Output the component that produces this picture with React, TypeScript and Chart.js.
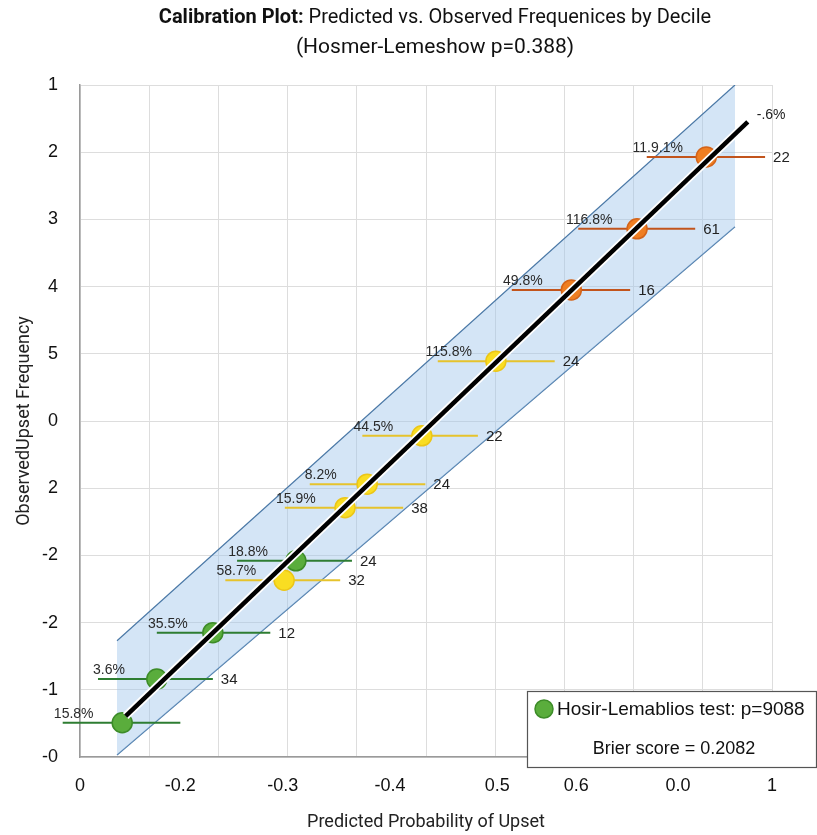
import React, { useEffect, useRef } from 'react';
import { Chart, registerables } from 'chart.js';

Chart.register(...registerables);

// ---- data ----
const predicted = [0.061, 0.111, 0.192, 0.312, 0.295, 0.383, 0.415, 0.494, 0.601, 0.71, 0.805, 0.905];
const observed = [0.051, 0.116, 0.185, 0.292, 0.263, 0.371, 0.406, 0.478, 0.589, 0.695, 0.786, 0.893];
const ciLow = [-0.025, 0.026, 0.111, 0.227, 0.21, 0.296, 0.332, 0.408, 0.517, 0.624, 0.72, 0.819];
const ciHigh = [0.145, 0.192, 0.275, 0.393, 0.376, 0.467, 0.499, 0.575, 0.686, 0.795, 0.889, 0.99];
const pctLabels = ['15.8%', '3.6%', '35.5%', '18.8%', '58.7%', '15.9%', '8.2%', '44.5%', '115.8%', '49.8%', '116.8%', '11.9.1%'];
const countLabels = ['', '34', '12', '24', '32', '38', '24', '22', '24', '16', '61', '22'];
const groups = ['green', 'green', 'green', 'green', 'yellow', 'yellow', 'yellow', 'yellow', 'yellow', 'orange', 'orange', 'orange'];

const fitX = [0.066, 0.965];
const fitY = [0.061, 0.945];
const fitLabel = '-.6%';

const bandX = [0.0535, 0.9465];
const bandLower = [0.003, 0.789];
const bandUpper = [0.173, 1.0];

const xGridValues = [0, 0.1, 0.2, 0.3, 0.4, 0.5, 0.6, 0.7, 0.8, 0.9, 1.0];
const xTickValues = [0, 0.145, 0.293, 0.448, 0.603, 0.717, 0.864, 1.0];
const xTickLabels = ['0', '-0.2', '-0.3', '-0.4', '0.5', '0.6', '0.0', '1'];
const yTickValues = [0, 0.1, 0.2, 0.3, 0.4, 0.5, 0.6, 0.7, 0.8, 0.9, 1.0];
const yTickLabels = ['-0', '-1', '-2', '-2', '2', '0', '5', '4', '3', '2', '1'];

const titleBold = 'Calibration Plot:';
const titleRest = ' Predicted vs. Observed Frequenices by Decile';
const titleLine2 = '(Hosmer-Lemeshow p=0.388)';
const legendLine1 = 'Hosir-Lemablios test: p=9088';
const legendLine2 = 'Brier score = 0.2082';

const groupStyle: Record<string, { fill: string; border: string; bar: string }> = {
  green: { fill: '#5aad3c', border: '#3d8c28', bar: '#2e7d32' },
  yellow: { fill: '#f9dd22', border: '#ecc616', bar: '#e6c32c' },
  orange: { fill: '#ef7e22', border: '#d4641a', bar: '#c2541c' },
};

const near = (a: number, b: number) => Math.abs(a - b) < 1e-6;
const SANS = '"Liberation Sans", Arial, sans-serif';

const annotPlugin = {
  id: 'annot',
  afterDatasetsDraw(chart: any) {
    const { ctx, scales } = chart;
    const x = scales.x;
    const y = scales.y;
    ctx.save();
    for (let i = 0; i < predicted.length; i++) {
      const py = y.getPixelForValue(observed[i]);
      ctx.fillStyle = '#2a2a2a';
      ctx.font = '14px ' + SANS;
      ctx.textAlign = 'center';
      ctx.textBaseline = 'middle';
      ctx.fillText(pctLabels[i], x.getPixelForValue(ciLow[i]) + 11, py - 9);
      if (countLabels[i]) {
        ctx.fillStyle = '#222';
        ctx.font = '15px ' + SANS;
        ctx.textAlign = 'left';
        ctx.fillText(countLabels[i], x.getPixelForValue(ciHigh[i]) + 8, py + 1);
      }
    }
    ctx.fillStyle = '#222';
    ctx.font = '14px ' + SANS;
    ctx.textAlign = 'left';
    ctx.textBaseline = 'middle';
    ctx.fillText(fitLabel, x.getPixelForValue(fitX[1]) + 9, y.getPixelForValue(fitY[1]) - 7);
    ctx.restore();
  },
  afterDraw(chart: any) {
    const { ctx } = chart;
    ctx.save();
    // title
    ctx.fillStyle = '#111';
    ctx.textBaseline = 'middle';
    const boldFont = 'bold 20px Roboto, sans-serif';
    const regFont = '20px Roboto, sans-serif';
    ctx.font = boldFont;
    const wb = ctx.measureText(titleBold).width;
    ctx.font = regFont;
    const wr = ctx.measureText(titleRest).width;
    const cx = 435;
    const startX = cx - (wb + wr) / 2;
    ctx.textAlign = 'left';
    ctx.font = boldFont;
    ctx.fillText(titleBold, startX, 18);
    ctx.font = regFont;
    ctx.fillText(titleRest, startX + wb, 18);
    ctx.textAlign = 'center';
    ctx.font = '21px Roboto, sans-serif';
    ctx.fillText(titleLine2, cx, 48);

    // legend box
    const bx = 527, by = 691, bw = 290, bh = 77;
    ctx.fillStyle = '#fff';
    ctx.fillRect(bx, by, bw, bh);
    ctx.strokeStyle = '#555';
    ctx.lineWidth = 1.2;
    ctx.strokeRect(bx + 0.5, by + 0.5, bw - 1, bh - 1);
    ctx.beginPath();
    ctx.arc(544, 709, 9, 0, Math.PI * 2);
    ctx.fillStyle = groupStyle.green.fill;
    ctx.fill();
    ctx.strokeStyle = groupStyle.green.border;
    ctx.lineWidth = 1.5;
    ctx.stroke();
    ctx.fillStyle = '#111';
    ctx.font = '19px ' + SANS;
    ctx.textAlign = 'left';
    ctx.fillText(legendLine1, 557, 710);
    ctx.font = '18px ' + SANS;
    ctx.textAlign = 'center';
    ctx.fillText(legendLine2, 674, 749);
    ctx.restore();
  },
};

export default function App() {
  const ref = useRef<HTMLCanvasElement | null>(null);
  useEffect(() => {
    if (!ref.current) return;
    const errorBars = predicted.map((_, i) => ({
      type: 'line',
      data: [
        { x: ciLow[i], y: observed[i] },
        { x: ciHigh[i], y: observed[i] },
      ],
      showLine: true,
      borderColor: groupStyle[groups[i]].bar,
      borderWidth: 2,
      pointRadius: 0,
      clip: false,
      order: 6,
    }));
    const markerSets = ['green', 'yellow', 'orange'].map((g) => ({
      type: 'scatter',
      data: predicted
        .map((p, i) => ({ x: p, y: observed[i], g: groups[i] }))
        .filter((d) => d.g === g)
        .map((d) => ({ x: d.x, y: d.y })),
      backgroundColor: groupStyle[g].fill,
      borderColor: groupStyle[g].border,
      borderWidth: 1.5,
      pointRadius: 10,
      clip: false,
      order: 4,
    }));
    const chart = new Chart(ref.current, {
      type: 'scatter',
      data: {
        datasets: [
          {
            type: 'line',
            data: bandX.map((v, i) => ({ x: v, y: bandLower[i] })),
            showLine: true,
            borderColor: '#4a78a6',
            borderWidth: 1.2,
            pointRadius: 0,
            fill: false,
            order: 10,
          },
          {
            type: 'line',
            data: bandX.map((v, i) => ({ x: v, y: bandUpper[i] })),
            showLine: true,
            borderColor: '#4a78a6',
            borderWidth: 1.2,
            pointRadius: 0,
            fill: '-1',
            backgroundColor: 'rgba(156,195,234,0.44)',
            order: 9,
          },
          ...errorBars,
          ...markerSets,
          {
            type: 'line',
            data: fitX.map((v, i) => ({ x: v, y: fitY[i] })),
            showLine: true,
            borderColor: '#ffffff',
            borderWidth: 8,
            pointRadius: 0,
            order: 2,
          },
          {
            type: 'line',
            data: fitX.map((v, i) => ({ x: v, y: fitY[i] })),
            showLine: true,
            borderColor: '#000000',
            borderWidth: 4.5,
            pointRadius: 0,
            order: 1,
          },
        ] as any,
      },
      options: {
        animation: false,
        responsive: false,
        events: [],
        layout: { padding: { top: 85, left: 0, right: 45, bottom: 0 } },
        plugins: { legend: { display: false }, tooltip: { enabled: false }, title: { display: false } },
        scales: {
          x: {
            type: 'linear',
            min: 0,
            max: 1,
            afterBuildTicks: (s: any) => {
              const vals = [...xGridValues];
              xTickValues.forEach((v) => {
                if (!vals.some((g) => near(g, v))) vals.push(v);
              });
              vals.sort((a, b) => a - b);
              s.ticks = vals.map((v) => ({ value: v }));
            },
            afterFit: (s: any) => {
              s.height = 78;
            },
            grid: {
              drawTicks: false,
              color: (c: any) => {
                const v = c.tick ? c.tick.value : NaN;
                return xGridValues.some((g) => near(g, v)) ? '#dddddd' : 'rgba(0,0,0,0)';
              },
              lineWidth: 1,
            },
            border: { color: '#9a9a9a', width: 1.5 },
            ticks: {
              autoSkip: false,
              maxRotation: 0,
              padding: 18,
              color: '#111',
              font: { family: SANS, size: 18 },
              callback: (v: any) => {
                const idx = xTickValues.findIndex((t) => near(t, Number(v)));
                return idx >= 0 ? xTickLabels[idx] : '';
              },
            },
            title: {
              display: true,
              text: 'Predicted Probability of Upset',
              color: '#222',
              font: { family: 'Roboto, sans-serif', size: 18 },
              padding: { top: 0, bottom: 2 },
            },
          },
          y: {
            type: 'linear',
            min: 0,
            max: 1,
            afterBuildTicks: (s: any) => {
              s.ticks = yTickValues.map((v) => ({ value: v }));
            },
            afterFit: (s: any) => {
              s.width = 80;
            },
            grid: { drawTicks: false, color: '#dddddd', lineWidth: 1 },
            border: { color: '#9a9a9a', width: 1.5 },
            ticks: {
              autoSkip: false,
              padding: 22,
              color: '#111',
              font: { family: SANS, size: 18 },
              callback: (_v: any, i: number) => yTickLabels[i],
            },
            title: {
              display: true,
              text: 'ObservedUpset Frequency',
              color: '#222',
              font: { family: 'Roboto, sans-serif', size: 18 },
              padding: { top: 14, bottom: 0 },
            },
          },
        },
      } as any,
      plugins: [annotPlugin as any],
    });
    return () => chart.destroy();
  }, []);
  return (
    <div style={{ position: 'fixed', left: 0, top: 0, width: 817, height: 835, background: '#fff' }}>
      <canvas ref={ref} width={817} height={835} style={{ display: 'block' }} />
    </div>
  );
}
